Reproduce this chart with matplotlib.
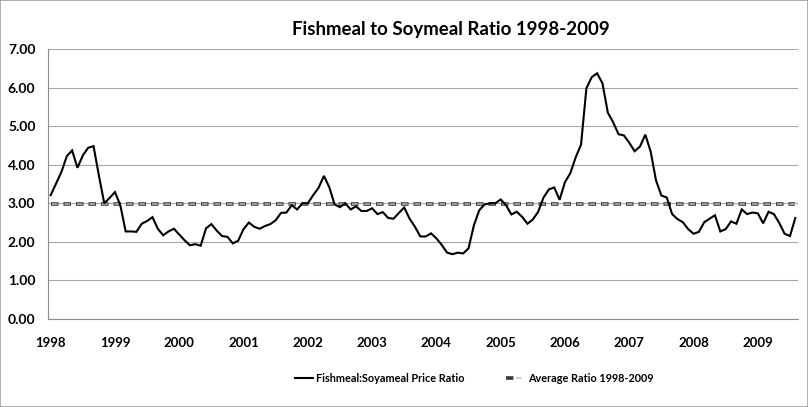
import matplotlib
matplotlib.use("Agg")
import matplotlib.pyplot as plt
from matplotlib.lines import Line2D
from matplotlib.patches import Rectangle
from matplotlib.legend_handler import HandlerTuple

title = "Fishmeal to Soymeal Ratio 1998-2009"
series_label = "Fishmeal:Soyameal Price Ratio"
avg_label = "Average Ratio 1998-2009"
year_labels = ["1998", "1999", "2000", "2001", "2002", "2003",
               "2004", "2005", "2006", "2007", "2008", "2009"]
y_ticks = [0, 1, 2, 3, 4, 5, 6, 7]

# Monthly ratio, Jan 1998 - Aug 2009
ratio = [
    3.21, 3.51, 3.81, 4.22, 4.37, 3.92, 4.24, 4.44, 4.48, 3.72, 3.00, 3.14,
    3.29, 2.95, 2.27, 2.27, 2.26, 2.47, 2.54, 2.64, 2.34, 2.17, 2.27, 2.34,
    2.19, 2.04, 1.91, 1.94, 1.90, 2.35, 2.46, 2.29, 2.15, 2.13, 1.96, 2.03,
    2.33, 2.50, 2.39, 2.34, 2.41, 2.46, 2.56, 2.75, 2.76, 2.95, 2.84, 3.00,
    3.00, 3.21, 3.40, 3.71, 3.42, 2.97, 2.90, 3.00, 2.84, 2.92, 2.80, 2.80,
    2.87, 2.72, 2.77, 2.62, 2.60, 2.75, 2.89, 2.60, 2.39, 2.14, 2.14, 2.22,
    2.09, 1.92, 1.72, 1.68, 1.72, 1.70, 1.83, 2.43, 2.82, 2.97, 3.00, 3.00,
    3.10, 2.95, 2.71, 2.78, 2.65, 2.47, 2.58, 2.78, 3.15, 3.36, 3.41, 3.09,
    3.55, 3.78, 4.19, 4.52, 5.98, 6.27, 6.37, 6.11, 5.35, 5.10, 4.79, 4.76,
    4.57, 4.35, 4.47, 4.78, 4.34, 3.59, 3.20, 3.15, 2.72, 2.59, 2.51, 2.33,
    2.21, 2.26, 2.51, 2.60, 2.69, 2.27, 2.33, 2.53, 2.47, 2.84, 2.72, 2.76,
    2.74, 2.48, 2.78, 2.72, 2.49, 2.21, 2.15, 2.62,
]
avg_ratio = 2.99

plt.rcParams['font.family'] = ['Lato', 'DejaVu Sans']
plt.rcParams['lines.scale_dashes'] = False

n = len(ratio)
x = [i + 0.5 for i in range(n)]
avg = [avg_ratio] * n

fig = plt.figure(figsize=(8.08, 4.07), dpi=100)
ax = fig.add_axes([48 / 808, 1 - 319 / 407, 750 / 808, 270 / 407])

grid_c = "#a6a6a6"
for v in y_ticks:
    ax.axhline(v, color=grid_c, lw=0.8, zorder=1)

# average line: dark outlined dashes with light fill
ax.plot(x, avg, color="#3a3a3a", lw=2.6, dash_capstyle='butt',
        linestyle=(0, (5.4, 3.6)), zorder=2)
ax.plot(x, avg, color="#bdbdbd", lw=1.1, dash_capstyle='butt',
        linestyle=(8.3, (4.0, 5.0)), zorder=3)

ax.plot(x, ratio, color="black", lw=1.5, solid_joinstyle='miter', zorder=4)

ax.set_xlim(0, n)
ax.set_ylim(0, 7)
ax.set_yticks(y_ticks)
ax.set_yticklabels([f"{v:.2f}" for v in y_ticks], fontsize=10, fontweight='bold')
ax.set_xticks([i * 12 + 0.5 for i in range(len(year_labels))])
ax.set_xticklabels(year_labels, fontsize=9.5, fontweight='bold')
ax.tick_params(axis='both', length=0)
ax.tick_params(axis='y', pad=9)
ax.tick_params(axis='x', pad=13)
for s in ['top', 'right']:
    ax.spines[s].set_visible(False)
for s in ['left', 'bottom']:
    ax.spines[s].set_color("#8c8c8c")
    ax.spines[s].set_linewidth(0.8)

fig.text(451 / 808, 1 - 30 / 407, title, ha='center', va='center',
         fontsize=13.4, fontweight='bold')

h1 = Line2D([], [], color='black', lw=1.5)
h2a = Line2D([], [], color="#3a3a3a", lw=2.6, dash_capstyle='butt',
             linestyle=(0, (5.4, 3.6)))
h2b = Line2D([], [], color="#bdbdbd", lw=1.1, dash_capstyle='butt',
             linestyle=(8.3, (4.0, 5.0)))
fig.legend([h1, (h2a, h2b)], [series_label, avg_label],
           handler_map={tuple: HandlerTuple(ndivide=None, pad=0)},
           loc='center', bbox_to_anchor=(474 / 808, 1 - 378 / 407), ncol=2,
           frameon=False, prop={'weight': 'bold', 'size': 7.8},
           columnspacing=3.8, handlelength=1.7, handletextpad=0.3,
           borderpad=0, borderaxespad=0)

fig.patches.append(Rectangle((0, 0), 1, 1, transform=fig.transFigure,
                             fill=False, edgecolor="#a0a0a0", lw=1.2))

fig.savefig("out.png", dpi=100)
